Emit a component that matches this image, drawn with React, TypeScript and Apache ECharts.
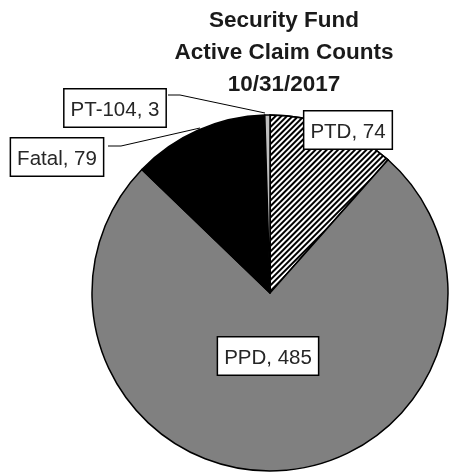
import React, { useEffect, useRef } from "react";
import * as echarts from "echarts";

const categories = ["PTD", "PPD", "Fatal", "PT-104"];
const values = [74, 485, 79, 3];
const titleLines = ["Security Fund", "Active Claim Counts", "10/31/2017"];

const colors = ["#ffffff", "#808080", "#000000", "#bfbfbf"];
// label box centres and leader lines (label placement only)
const labelPos: [number, number][] = [
  [348, 130],
  [268, 356],
  [57, 157],
  [115, 108],
];
const leaderLines: ([number, number][] | null)[] = [
  null,
  null,
  [[108, 146], [121, 146], [200, 128]],
  [[168, 95], [180, 95], [265, 113]],
];

export default function App() {
  const ref = useRef<HTMLDivElement>(null);
  useEffect(() => {
    if (!ref.current) return;
    const chart = echarts.init(ref.current, null, { renderer: "svg" });
    const data = categories.map((name, i) => ({
      name,
      value: values[i],
      itemStyle:
        i === 0
          ? {
              color: "#ffffff",
              decal: {
                symbol: "rect",
                symbolSize: 1,
                dashArrayX: [1, 0],
                dashArrayY: [1.2, 1.8],
                rotation: -Math.PI / 4,
                color: "#000000",
                backgroundColor: "#ffffff",
              },
            }
          : { color: colors[i] },
      label: { position: leaderLines[i] ? "outside" : "inside" },
      labelLine: { show: leaderLines[i] !== null },
    }));
    chart.setOption({
      animation: false,
      graphic: [
        {
          type: "text",
          x: 284,
          y: 3,
          style: {
            text: titleLines.join("\n"),
            fontFamily: "Liberation Sans",
            fontWeight: "bold",
            fontSize: 22.5,
            lineHeight: 32,
            textAlign: "center",
            fill: "#1a1a1a",
          },
        },
      ],
      series: [
        {
          type: "pie",
          center: [270, 293],
          radius: 178,
          startAngle: 90,
          clockwise: true,
          data,
          itemStyle: { borderColor: "#000", borderWidth: 1.5 },
          emphasis: { disabled: true },
          label: {
            show: true,
            formatter: "{b}, {c}",
            fontFamily: "Liberation Sans",
            fontSize: 20.5,
            lineHeight: 25,
            color: "#262626",
            backgroundColor: "#ffffff",
            borderColor: "#000000",
            borderWidth: 1.5,
            padding: [7, 6, 5, 6],
            overflow: "none",
          },
          labelLine: {
            show: true,
            lineStyle: { color: "#000", width: 1 },
          },
          labelLayout: (params: any) => {
            const i = params.dataIndex;
            const res: any = {
              x: labelPos[i][0],
              y: labelPos[i][1],
              align: "center",
              verticalAlign: "middle",
            };
            if (leaderLines[i]) res.labelLinePoints = leaderLines[i];
            return res;
          },
        },
      ],
    });
    return () => chart.dispose();
  }, []);
  return (
    <div
      ref={ref}
      style={{ position: "fixed", left: 0, top: 0, width: 450, height: 475 }}
    />
  );
}
